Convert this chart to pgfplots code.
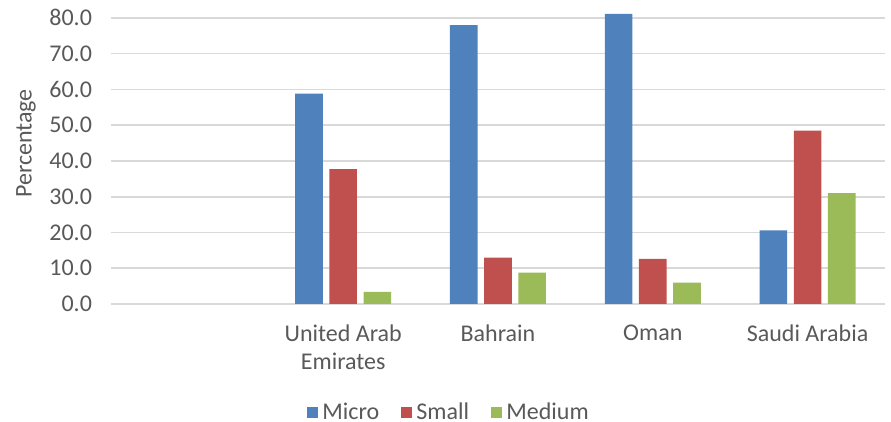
\documentclass[border=0pt]{standalone}
\usepackage{fontspec}
\setmainfont{Carlito}
\usepackage{pgfplots}
\pgfplotsset{compat=1.18}
\definecolor{cmicro}{HTML}{4F81BD}
\definecolor{csmall}{HTML}{C0504D}
\definecolor{cmedium}{HTML}{9BBB59}
\definecolor{cgrid}{HTML}{D9D9D9}
\definecolor{ctext}{HTML}{595959}
\begin{document}
\begin{tikzpicture}
\path[use as bounding box] (-55.5pt,-59pt) rectangle (390pt,152pt);
\begin{axis}[
  at={(0,0)}, anchor=south west,
  scale only axis,
  width=387pt, height=152pt,
  xmin=-0.5, xmax=4.5,
  ymin=0, ymax=85,
  axis line style={draw=none},
  axis x line*=bottom,
  xtick={1,2,3,4},
  xticklabels={{United Arab\\Emirates},{Bahrain},{Oman},{Saudi Arabia}},
  ytick={0,10,20,30,40,50,60,70,80},
  ymajorgrids,
  grid style={cgrid, line width=0.8pt},
  extra y ticks={0},
  extra y tick style={grid style={cgrid,line width=1pt}, yticklabels={}},
  major tick length=0pt,
  /pgf/number format/assume math mode=true,
  yticklabel={\pgfmathprintnumber[fixed,fixed zerofill,precision=1]{\tick}},
  tick label style={font=\fontsize{12}{14}\selectfont, text=ctext},
  xticklabel style={align=center, anchor=north, yshift=-7pt},
  yticklabel style={anchor=east, xshift=-6pt},
  ylabel={Percentage},
  ylabel style={font=\fontsize{12}{14}\selectfont, text=ctext, at={(axis description cs:-0.1098,0.528)}, anchor=center},
  ybar, bar width=13.8pt,
  legend style={at={(axis description cs:0.438,-0.358)}, anchor=center, draw=none, font=\fontsize{12}{14}\selectfont, text=ctext, legend columns=3, /tikz/every even column/.append style={column sep=9pt}},
  legend image code/.code={\fill[#1] (0pt,-2.8pt) rectangle (5.6pt,2.8pt);},
  clip=false,
]
\addplot[fill=cmicro, draw=none, bar shift=-17.1pt] coordinates {(1,58.8) (2,78.0) (3,81.1) (4,20.6)};
\addplot[fill=csmall, draw=none, bar shift=0pt] coordinates {(1,37.7) (2,13.0) (3,12.6) (4,48.5)};
\addplot[fill=cmedium, draw=none, bar shift=17.1pt] coordinates {(1,3.4) (2,8.8) (3,6.0) (4,31.0)};
\legend{Micro,Small,Medium}
\end{axis}
\end{tikzpicture}
\end{document}
